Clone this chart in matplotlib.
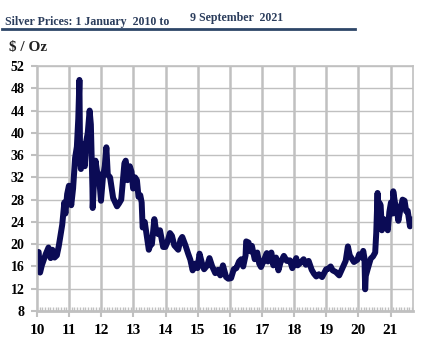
import matplotlib
matplotlib.use('Agg')
import matplotlib.pyplot as plt
import pandas as pd
from matplotlib.ticker import MultipleLocator

# silver price, $/oz
dates = [
    "2010-01-04", "2010-01-20", "2010-02-05", "2010-02-25", "2010-03-15", "2010-04-10",
    "2010-05-12", "2010-06-05", "2010-06-25", "2010-07-20", "2010-08-15", "2010-09-05",
    "2010-09-25", "2010-10-15", "2010-11-08", "2010-11-20", "2010-12-10", "2010-12-30",
    "2011-01-25", "2011-02-15", "2011-03-10", "2011-03-30", "2011-04-15", "2011-04-28",
    "2011-05-06", "2011-05-15", "2011-06-01", "2011-06-28", "2011-07-15", "2011-08-01",
    "2011-08-22", "2011-09-05", "2011-09-23", "2011-09-26", "2011-10-10", "2011-10-28",
    "2011-11-15", "2011-12-05", "2011-12-29", "2012-01-20", "2012-02-10", "2012-02-28",
    "2012-03-15", "2012-04-10", "2012-05-15", "2012-06-28", "2012-07-20", "2012-08-15",
    "2012-09-20", "2012-10-05", "2012-10-25", "2012-11-20", "2012-12-10", "2012-12-28",
    "2013-01-20", "2013-02-10", "2013-02-28", "2013-03-20", "2013-04-05", "2013-04-16",
    "2013-05-10", "2013-05-28", "2013-06-25", "2013-07-10", "2013-07-30", "2013-08-27",
    "2013-09-15", "2013-10-10", "2013-10-30", "2013-12-05", "2013-12-30", "2014-01-20",
    "2014-02-20", "2014-03-15", "2014-04-10", "2014-05-25", "2014-06-20", "2014-07-10",
    "2014-08-15", "2014-09-15", "2014-10-10", "2014-11-05", "2014-12-01", "2014-12-30",
    "2015-01-22", "2015-02-20", "2015-03-15", "2015-04-20", "2015-05-15", "2015-06-15",
    "2015-07-20", "2015-08-20", "2015-09-15", "2015-10-15", "2015-11-20", "2015-12-15",
    "2016-01-15", "2016-02-15", "2016-03-15", "2016-04-15", "2016-05-10", "2016-06-01",
    "2016-06-28", "2016-07-05", "2016-08-01", "2016-08-25", "2016-09-08", "2016-10-10",
    "2016-11-08", "2016-11-30", "2016-12-20", "2017-01-20", "2017-02-25", "2017-03-10",
    "2017-04-18", "2017-05-10", "2017-06-10", "2017-07-07", "2017-07-30", "2017-09-07",
    "2017-10-10", "2017-11-15", "2017-12-12", "2018-01-25", "2018-02-10", "2018-03-10",
    "2018-04-19", "2018-05-15", "2018-06-15", "2018-07-20", "2018-08-15", "2018-09-10",
    "2018-10-10", "2018-11-15", "2018-12-31", "2019-01-25", "2019-02-20", "2019-03-15",
    "2019-04-20", "2019-05-28", "2019-06-20", "2019-07-18", "2019-08-10", "2019-09-04",
    "2019-09-25", "2019-10-15", "2019-11-12", "2019-12-20", "2020-01-10", "2020-02-10",
    "2020-02-25", "2020-03-10", "2020-03-18", "2020-03-25", "2020-04-15", "2020-05-20",
    "2020-06-15", "2020-07-10", "2020-07-22", "2020-08-06", "2020-08-12", "2020-08-25",
    "2020-09-10", "2020-09-24", "2020-10-15", "2020-11-10", "2020-11-30", "2020-12-18",
    "2021-01-06", "2021-01-25", "2021-02-01", "2021-02-20", "2021-03-15", "2021-03-31",
    "2021-04-20", "2021-05-18", "2021-06-10", "2021-06-28", "2021-07-15", "2021-08-10",
    "2021-08-25", "2021-09-09",
]
prices = [
    18.2, 18.6, 14.9, 16.2, 17.0, 18.2,
    19.4, 17.5, 19.0, 17.6, 18.0, 19.6,
    21.5, 23.5, 27.5, 25.5, 29.0, 30.5,
    27.0, 30.0, 35.5, 37.5, 42.5, 49.5,
    35.0, 33.5, 38.0, 34.0, 38.5, 40.0,
    44.0, 41.5, 30.0, 26.5, 31.0, 35.0,
    33.0, 32.5, 27.8, 32.0, 34.0, 37.4,
    32.5, 32.0, 28.3, 26.8, 27.3, 28.0,
    34.5, 35.0, 31.5, 34.0, 33.0, 30.0,
    32.0, 31.5, 28.5, 28.8, 27.5, 23.0,
    24.0, 22.0, 19.0, 19.8, 20.0, 24.5,
    22.5, 21.8, 22.5, 19.5, 19.5, 20.3,
    22.0, 21.5, 19.8, 19.0, 20.8, 21.3,
    19.8, 18.3, 17.2, 15.3, 16.5, 15.7,
    18.3, 16.5, 15.5, 16.2, 17.5, 16.0,
    14.8, 15.4, 14.4, 16.2, 14.1, 13.8,
    13.9, 15.5, 15.7, 16.9, 17.3, 16.0,
    18.0, 20.5, 20.3, 18.7, 19.7, 17.3,
    18.5, 16.5, 15.9, 17.0, 18.4, 16.9,
    18.5, 16.2, 17.6, 15.3, 16.7, 17.9,
    17.0, 17.1, 15.7, 17.5, 16.2, 16.6,
    17.3, 16.3, 17.0, 15.4, 14.7, 14.2,
    14.6, 14.1, 15.5, 15.6, 16.0, 15.3,
    15.0, 14.4, 15.2, 16.2, 17.0, 19.6,
    18.0, 17.5, 16.8, 17.2, 18.2, 17.6,
    18.8, 17.5, 11.9, 14.3, 15.5, 17.4,
    17.8, 18.5, 22.0, 29.2, 25.0, 27.5,
    27.0, 22.5, 24.5, 24.2, 22.5, 25.8,
    27.5, 25.5, 29.5, 27.5, 26.0, 24.2,
    26.0, 28.0, 27.8, 25.9, 26.0, 23.2,
    24.0, 24.3,
]
year_labels = ["10", "11", "12", "13", "14", "15", "16", "17", "18", "19", "20", "21"]

d = pd.to_datetime(pd.Series(dates))
x = d.dt.year + (d.dt.dayofyear - 1) / 365.25

serif = ['Liberation Serif', 'DejaVu Serif']
grid_col = '#c0c0c0'

fig = plt.figure(figsize=(4.28, 3.48), dpi=100)
ax = fig.add_axes([0.0864, 0.1063, 0.8786, 0.704])

ax.plot(x, prices, color='#0b0b55', lw=4.3, solid_joinstyle='round')

ax.set_xlim(2010, 2021.70)
ax.set_ylim(8, 52)
ax.set_xticks([2010 + i for i in range(len(year_labels))])
ax.set_xticklabels(year_labels)
ax.xaxis.set_minor_locator(MultipleLocator(1 / 12))
ax.yaxis.set_major_locator(MultipleLocator(4))

ax.grid(axis='x', color=grid_col, lw=1.8)
ax.grid(axis='y', color=grid_col, lw=1.0)
ax.set_axisbelow(True)
for s in ax.spines.values():
    s.set_color(grid_col)
    s.set_linewidth(1.2)
ax.spines['bottom'].set_linewidth(2.0)

ax.tick_params(axis='both', which='major', color=grid_col, length=4, width=1.5)
ax.tick_params(axis='x', which='minor', direction='in', color=grid_col, length=3, width=1.0)
ax.tick_params(axis='y', pad=5)
ax.tick_params(axis='x', pad=5)
for lab in ax.get_yticklabels():
    lab.set_fontfamily(serif)
    lab.set_fontweight('bold')
    lab.set_fontsize(10)
for lab in ax.get_xticklabels():
    lab.set_fontfamily(serif)
    lab.set_fontweight('bold')
    lab.set_fontsize(11)

title_col = '#2b3d5c'
fig.text(5 / 428, 1 - 25 / 348, "Silver Prices: 1 January  2010 to", family=serif,
         fontweight='bold', fontsize=8.6, color=title_col, va='baseline')
fig.text(190 / 428, 1 - 21 / 348, "9 September  2021", family=serif,
         fontweight='bold', fontsize=8.6, color=title_col, va='baseline')
fig.add_artist(plt.Line2D([2 / 428, 355 / 428], [1 - 29 / 348, 1 - 29 / 348],
                          color='#2e4668', lw=2.0))
fig.text(9 / 428, 1 - 47 / 348, "$ / Oz", family=serif, fontweight='bold',
         fontsize=11, color='#222222', va='center')

fig.savefig('out.png', dpi=100)
